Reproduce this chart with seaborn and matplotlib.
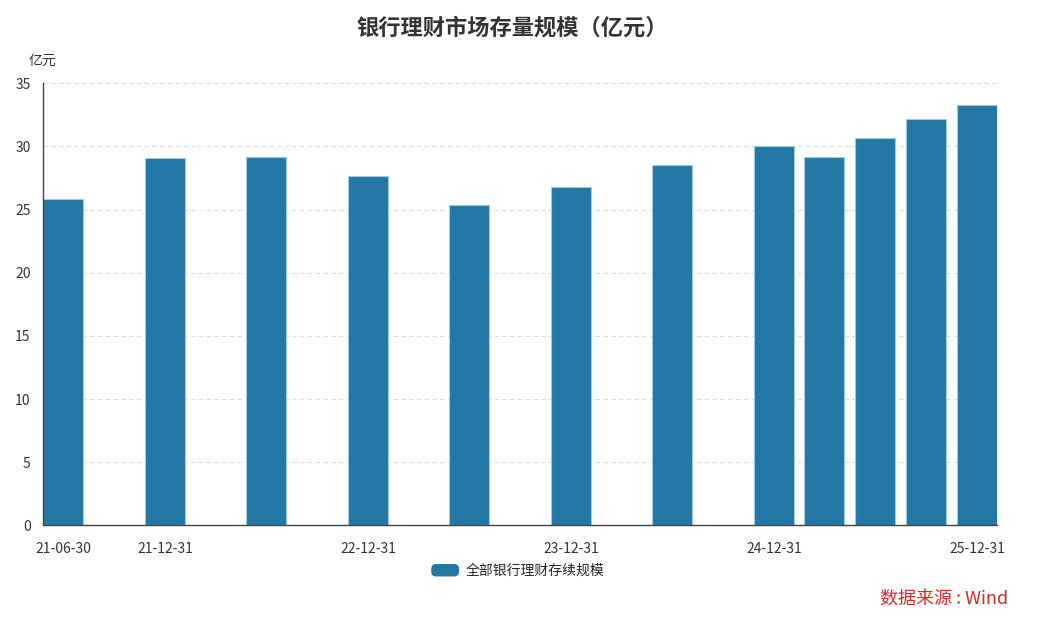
import matplotlib
matplotlib.use('Agg')
import matplotlib.pyplot as plt
import seaborn as sns
import pandas as pd
from matplotlib.container import BarContainer
from matplotlib.legend_handler import HandlerBase
from matplotlib.patches import FancyBboxPatch

# 报告期 和 存续规模(亿元)
dates = ['2021-06-30', '2021-12-31', '2022-06-30', '2022-12-31', '2023-06-30', '2023-12-31',
         '2024-06-30', '2024-12-31', '2025-03-31', '2025-06-30', '2025-09-30', '2025-12-31']
values = [25.8, 29.05, 29.2, 27.65, 25.35, 26.8, 28.55, 30.0, 29.2, 30.7, 32.15, 33.3]
tick_dates = ['2021-06-30', '2021-12-31', '2022-12-31', '2023-12-31', '2024-12-31', '2025-12-31']
tick_labels = ['21-06-30', '21-12-31', '22-12-31', '23-12-31', '24-12-31', '25-12-31']
series_name = '全部银行理财存续规模'

d = pd.to_datetime(dates)
start = d[0]
df = pd.DataFrame({'day': (d - start).days, 'value': values})
tick_pos = (pd.to_datetime(tick_dates) - start).days


class RoundBoxHandler(HandlerBase):
    # legend swatch with rounded corners
    def create_artists(self, legend, orig_handle, xdescent, ydescent, width, height, fontsize, trans):
        fc = orig_handle[0].get_facecolor()
        p = FancyBboxPatch((-xdescent, -ydescent), width, height,
                           boxstyle='round,pad=0,rounding_size=3.5',
                           facecolor=fc, edgecolor='none', transform=trans)
        return [p]


sns.set_theme(style='white')
plt.rcParams['font.family'] = ['Noto Sans CJK SC', 'DejaVu Sans']
plt.rcParams['axes.unicode_minus'] = False

fig = plt.figure(figsize=(10.4, 6.22), dpi=100)
ax = fig.add_axes([43 / 1040, (622 - 525.3) / 622, (997 - 43) / 1040, (525.3 - 83.3) / 622])

sns.barplot(data=df, x='day', y='value', native_scale=True, color='#2277a4', saturation=1,
            width=0.8, edgecolor='#9ccbe2', linewidth=0.8, label=series_name, ax=ax)

half = 0.4 * df['day'].diff().min()
ax.set_xlim(df['day'].iloc[0] - half, df['day'].iloc[-1] + half)
ax.set_ylim(0, 35)
ax.set_yticks(range(0, 36, 5))
ax.set_xticks(tick_pos)
ax.set_xticklabels(tick_labels)
ax.set_xlabel('')
ax.set_ylabel('')

ax.yaxis.grid(True, linestyle=(0, (4, 3)), color='#dcdcdc', linewidth=0.8)
ax.set_axisbelow(True)
for s in ['top', 'right']:
    ax.spines[s].set_visible(False)
for s in ['left', 'bottom']:
    ax.spines[s].set_color('#444444')
    ax.spines[s].set_linewidth(1)
ax.tick_params(axis='both', direction='out', length=7, width=1, color='#444444',
               labelsize=10, labelcolor='#333333')
ax.tick_params(axis='x', pad=5)
ax.tick_params(axis='y', pad=2)

fig.text(512 / 1040, 1 - 28 / 622, '银行理财市场存量规模（亿元）', ha='center', va='center',
         fontsize=16, fontweight='bold', color='#333333')
fig.text(42 / 1040, 1 - 61 / 622, '亿元', ha='center', va='center', fontsize=10, color='#333333')

handles, labels = ax.get_legend_handles_labels()
ax.legend(handles, labels, loc='center', bbox_to_anchor=(518 / 1040, 1 - 571 / 622),
          bbox_transform=fig.transFigure, frameon=False, fontsize=10,
          handlelength=2.0, handleheight=1.0, handletextpad=0.5,
          handler_map={BarContainer: RoundBoxHandler()})

fig.text(1008 / 1040, 1 - 599 / 622, '数据来源 : Wind', ha='right', va='center',
         fontsize=13, color='#d42a2a')

fig.savefig('out.png', dpi=100)
